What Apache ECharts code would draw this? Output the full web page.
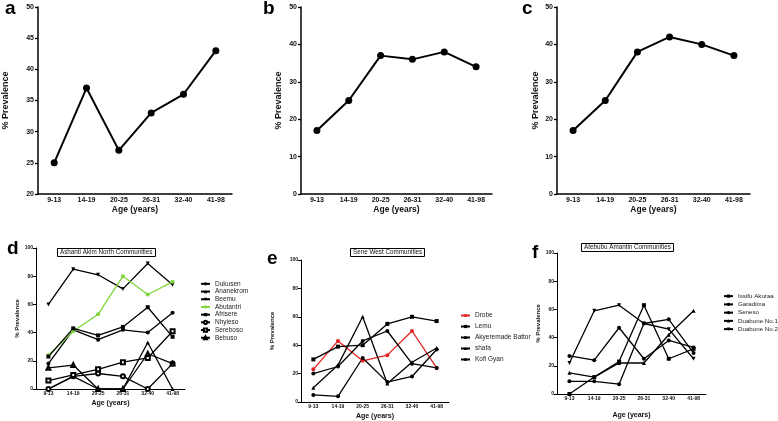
<!DOCTYPE html>
<html><head><meta charset="utf-8">
<script src="https://cdn.jsdelivr.net/npm/echarts@6/dist/echarts.min.js"></script>
<style>html,body{margin:0;padding:0;background:#fff}#c{width:778px;height:421px}</style>
</head><body><div id="c"></div>
<script>
// ---- data ----
const ageGroups = ['9-13','14-19','20-25','26-31','32-40','41-98'];
const prevA = [25,37,27,33,36,43];
const prevB = [17,25,37,36,38,34];
const prevC = [17,25,38,42,40,37];

const namesD = ['Dukusen','Ananekrom','Beemu','Abutantri','Afrisere','Nhyieso','Sereboso','Bebuso'];
const dukusen   = [18,42,35,42,40,54];
const ananekrom = [0,9,0,0,33,0];
const beemu     = [60,85,81,71,89,74];
const abutantri = [24,41,53,80,67,76];
const afrisere  = [23,43,38,44,58,37];
const nhyieso   = [0,9,11,9,0,18];
const sereboso  = [6,10,14,19,22,41];
const bebuso    = [15,17,0,0,25,18];

const namesE = ['Drobe','Lemu','Akyeremade Battor','shafa','Kofi Gyan'];
const drobe     = [23,43,29,33,50,24];
const lemu      = [30,39,40,55,60,57];
const akyeremade= [20,25,43,50,27,24];
const shafa     = [10,26,60,13,28,38];
const kofiGyan  = [5,4,31,14,18,37];

const namesF = ['Issifu Akuraa','Garadima','Seneso','Duabone No.1','Duabone No.2'];
const issifu    = [0,12,23,63,25,32];
const garadima  = [27,24,47,25,38,33];
const seneso    = [9,9,7,50,53,29];
const duabone1  = [15,12,22,22,42,59];
const duabone2  = [22,59,63,50,46,25];

const titleD = 'Ashanti Akim North Communities';
const titleE = 'Sene West Communities';
const titleF = 'Atebubu Amantin Communities';
const yName = '% Prevalence';
const xName = 'Age (years)';

// ---- layout ----
const FONT = 'Liberation Sans, Arial, sans-serif';
const grids = [
  {left:36, top:7, right:546, bottom:227},
  {left:301, top:7, right:286, bottom:227},
  {left:557, top:7, right:28, bottom:227},
  {left:36, top:248, right:593, bottom:32},
  {left:301, top:260, right:329, bottom:19},
  {left:557, top:253, right:72, bottom:27}
];
const yCfg = [
  {min:20,max:50,interval:5,gap:28},
  {min:0,max:50,interval:10,gap:18},
  {min:0,max:50,interval:10,gap:17},
  {min:0,max:100,interval:20,gap:13},
  {min:0,max:100,interval:20,gap:26},
  {min:0,max:100,interval:20,gap:15}
];
const xGaps = [10,10,10,11,11,18];

const xAxes = grids.map((g,i)=>{
  const top = i<3;
  return {
    type:'category', gridIndex:i, data:ageGroups, boundaryGap:true,
    name:xName, nameLocation:'middle', nameGap:xGaps[i],
    nameTextStyle:{fontFamily:FONT,fontWeight:'bold',fontSize: top?8.5:7,color:'#111'},
    axisLine:{lineStyle:{color:'#000',width: top?1.5:1}},
    axisTick:{alignWithLabel:true,length:3,lineStyle:{color:'#000',width: top?1.3:1}},
    axisLabel:{margin: top?3:2, fontFamily:FONT,fontWeight:'bold',fontSize: top?7:5,color:'#111'},
    splitLine:{show:false}
  };
});
const yAxes = grids.map((g,i)=>{
  const top = i<3;
  const c = yCfg[i];
  return {
    type:'value', gridIndex:i, min:c.min, max:c.max, interval:c.interval,
    name:yName, nameLocation:'middle', nameGap:c.gap, nameRotate:90,
    nameTextStyle:{fontFamily:FONT,fontWeight:'bold',fontSize: top?9:6,color:'#111'},
    axisLine:{show:true,lineStyle:{color:'#000',width: top?1.5:1}},
    axisTick:{show:true,length:3,lineStyle:{color:'#000',width: top?1.3:1}},
    axisLabel:{margin: top?4:3, fontFamily:FONT,fontWeight:'bold',fontSize: top?7:5,color:'#111'},
    splitLine:{show:false}
  };
});

function topSeries(idx, data){
  return {type:'line', name:'p'+idx, xAxisIndex:idx, yAxisIndex:idx, data:data,
    symbol:'circle', symbolSize:7, lineStyle:{color:'#000',width:2}, itemStyle:{color:'#000'},
    emphasis:{disabled:true}};
}
function sub(idx, name, data, symbol, color, rot){
  return {type:'line', name:name, xAxisIndex:idx, yAxisIndex:idx, data:data,
    symbol:symbol, symbolSize:4, symbolRotate:rot||0,
    lineStyle:{color:color,width:1.3}, itemStyle:{color:color},
    emphasis:{disabled:true}};
}
const BLK = '#000', GRN = '#7fd63a', RED = '#e32222';
const series = [
  topSeries(0, prevA), topSeries(1, prevB), topSeries(2, prevC),
  sub(3,'Dukusen',dukusen,'circle',BLK),
  sub(3,'Ananekrom',ananekrom,'triangle',BLK),
  sub(3,'Beemu',beemu,'triangle',BLK,180),
  sub(3,'Abutantri',abutantri,'circle',GRN),
  sub(3,'Afrisere',afrisere,'rect',BLK),
  sub(3,'Nhyieso',nhyieso,'emptyCircle',BLK),
  sub(3,'Sereboso',sereboso,'emptyRect',BLK),
  sub(3,'Bebuso',bebuso,'emptyTriangle',BLK),
  sub(4,'Drobe',drobe,'circle',RED),
  sub(4,'Lemu',lemu,'rect',BLK),
  sub(4,'Akyeremade Battor',akyeremade,'circle',BLK),
  sub(4,'shafa',shafa,'triangle',BLK),
  sub(4,'Kofi Gyan',kofiGyan,'circle',BLK),
  sub(5,'Issifu Akuraa',issifu,'rect',BLK),
  sub(5,'Garadima',garadima,'circle',BLK),
  sub(5,'Seneso',seneso,'circle',BLK),
  sub(5,'Duabone No.1',duabone1,'triangle',BLK),
  sub(5,'Duabone No.2',duabone2,'triangle',BLK,180)
];

function legend(names, left, top, lh, fs){
  return {data:names, orient:'vertical', left:left, top:top, itemGap:0,
    itemWidth:9, itemHeight:4, padding:0, selectedMode:false,
    textStyle:{fontFamily:FONT,fontSize:fs||6.5,color:'#222',lineHeight:lh}};
}

function boxTitle(text,left,top){
  return {text:text,left:left,top:top,padding:[1,3],borderColor:'#000',borderWidth:1,
    backgroundColor:'#fff',
    textStyle:{fontFamily:FONT,fontSize:6.3,fontWeight:'normal',color:'#111',lineHeight:7}};
}
function letter(t,x,y){
  return {type:'text',left:x,top:y,style:{text:t,font:'bold 19px '+FONT,fill:'#000'}};
}

const option = {
  animation:false,
  backgroundColor:'#fff',
  grid:grids,
  xAxis:xAxes,
  yAxis:yAxes,
  series:series,
  legend:[
    legend(namesD, 200, 280, 7.7),
    legend(namesE, 460, 310, 11),
    legend(namesF, 723, 292, 8.25, 6.2)
  ],
  title:[
    boxTitle(titleD,57,248),
    boxTitle(titleE,350,248),
    boxTitle(titleF,581,243)
  ],
  graphic:[
    letter('a',5,-1), letter('b',263,-1), letter('c',522,-1),
    letter('d',7,239), letter('e',267,249), letter('f',532,243)
  ]
};
const chart = echarts.init(document.getElementById('c'),null,{renderer:'canvas'});
chart.setOption(option);
</script></body></html>
